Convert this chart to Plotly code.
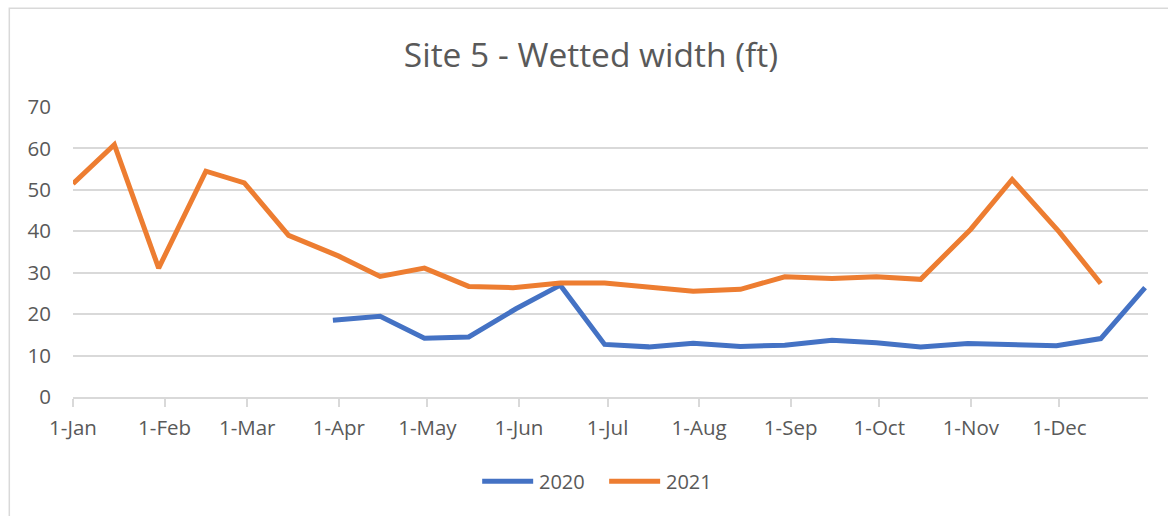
import plotly.graph_objects as go

# ---- data (dates mapped onto a common year for the month-day axis) ----
dates_2020 = ["2021-03-30", "2021-04-15", "2021-04-30", "2021-05-15", "2021-05-31",
              "2021-06-15", "2021-06-30", "2021-07-15", "2021-07-30", "2021-08-15",
              "2021-08-30", "2021-09-15", "2021-09-30", "2021-10-15", "2021-10-31",
              "2021-11-15", "2021-11-30", "2021-12-15", "2021-12-30"]
width_2020 = [18.5, 19.5, 14.2, 14.5, 21.3, 27.0, 12.7, 12.1, 13.0, 12.2,
              12.5, 13.7, 13.1, 12.1, 12.9, 12.6, 12.4, 14.1, 26.4]

dates_2021 = ["2021-01-01", "2021-01-15", "2021-01-30", "2021-02-15", "2021-02-28",
              "2021-03-15", "2021-04-01", "2021-04-15", "2021-04-30", "2021-05-15",
              "2021-05-30", "2021-06-15", "2021-06-30", "2021-07-15", "2021-07-30",
              "2021-08-15", "2021-08-30", "2021-09-15", "2021-09-30", "2021-10-15",
              "2021-11-01", "2021-11-15", "2021-12-01", "2021-12-15"]
width_2021 = [51.5, 60.9, 31.1, 54.5, 51.7, 39.0, 34.0, 29.1, 31.1, 26.7,
              26.4, 27.5, 27.5, 26.6, 25.5, 26.0, 29.0, 28.6, 29.0, 28.4,
              40.5, 52.5, 39.8, 27.4]

tick_vals = ["2021-01-01", "2021-02-01", "2021-03-01", "2021-04-01", "2021-05-01",
             "2021-06-01", "2021-07-01", "2021-08-01", "2021-09-01", "2021-10-01",
             "2021-11-01", "2021-12-01"]
tick_text = ["1-Jan", "1-Feb", "1-Mar", "1-Apr", "1-May", "1-Jun", "1-Jul",
             "1-Aug", "1-Sep", "1-Oct", "1-Nov", "1-Dec"]

series_names = ["2020", "2021"]
BLUE = "#4472C4"
ORANGE = "#ED7D31"
TXT = "#595959"
GRID = "#D9D9D9"
FONT = "Open Sans"

fig = go.Figure()
fig.add_trace(go.Scatter(x=dates_2020, y=width_2020, mode="lines", name=series_names[0],
                         line=dict(color=BLUE, width=5), showlegend=False))
fig.add_trace(go.Scatter(x=dates_2021, y=width_2021, mode="lines", name=series_names[1],
                         line=dict(color=ORANGE, width=5), showlegend=False))

W, H = 1168, 516
L, R, T, B = 72.7, 20, 106.7, 119.3
pw = W - L - R
ph = H - T - B

def px_x(x):
    return (x - L) / pw

def px_y(y):
    return (H - B - y) / ph

shapes = [
    # chart border
    dict(type="rect", xref="paper", yref="paper",
         x0=px_x(9), x1=px_x(W + 5), y0=px_y(H + 5), y1=px_y(8),
         line=dict(color=GRID, width=1.5), fillcolor="rgba(0,0,0,0)", layer="below"),
    # legend lines
    dict(type="line", xref="paper", yref="paper", x0=px_x(482), x1=px_x(533),
         y0=px_y(481), y1=px_y(481), line=dict(color=BLUE, width=5)),
    dict(type="line", xref="paper", yref="paper", x0=px_x(609), x1=px_x(660),
         y0=px_y(481), y1=px_y(481), line=dict(color=ORANGE, width=5)),
]
annotations = [
    dict(xref="paper", yref="paper", x=px_x(537), y=px_y(481), text=series_names[0],
         showarrow=False, xanchor="left", yanchor="middle",
         font=dict(family=FONT, size=20, color=TXT)),
    dict(xref="paper", yref="paper", x=px_x(664), y=px_y(481), text=series_names[1],
         showarrow=False, xanchor="left", yanchor="middle",
         font=dict(family=FONT, size=20, color=TXT)),
]

fig.update_layout(
    width=W, height=H,
    margin=dict(l=L, r=R, t=T, b=B, autoexpand=False),
    paper_bgcolor="white", plot_bgcolor="white",
    title=dict(text="Site 5 - Wetted width (ft)", x=591 / W, xref="container",
               y=1 - 55 / H, yanchor="middle", xanchor="center",
               font=dict(family=FONT, size=33.5, color=TXT)),
    font=dict(family=FONT, color=TXT, size=20),
    shapes=shapes, annotations=annotations,
)

fig.update_xaxes(type="date", range=["2021-01-01", "2021-12-31"],
                 tickvals=tick_vals, ticktext=tick_text,
                 showgrid=False, showline=True, linecolor=GRID, linewidth=1.5,
                 ticks="outside", ticklen=8, tickcolor=GRID, tickwidth=1.5,
                 tickfont=dict(family=FONT, size=20.5, color=TXT),
                 ticklabelstandoff=4, zeroline=False)
fig.update_yaxes(range=[0, 70], dtick=10, showgrid=True, gridcolor=GRID, gridwidth=1.5,
                 zeroline=False, showline=False, ticks="",
                 tickfont=dict(family=FONT, size=20.5, color=TXT),
                 ticklabelstandoff=21)

fig.write_html("out.html", config={"displayModeBar": False},
               post_script="document.body.style.margin='0px';document.body.style.overflow='hidden';")
